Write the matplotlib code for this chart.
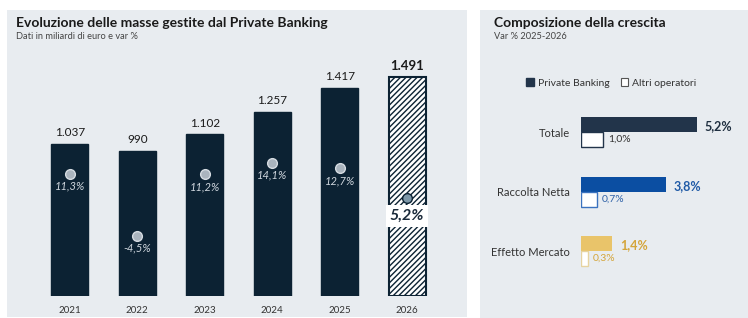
import matplotlib
matplotlib.use("Agg")
import matplotlib.pyplot as plt
from matplotlib.patches import Rectangle, Patch

plt.rcParams['font.family'] = ['Lato', 'DejaVu Sans']

# data
years = ['2021', '2022', '2023', '2024', '2025', '2026']
masse = [1037, 990, 1102, 1257, 1417, 1491]
masse_lbl = ['1.037', '990', '1.102', '1.257', '1.417', '1.491']
var_pct = [11.3, -4.5, 11.2, 14.1, 12.7, 5.2]
var_lbl = ['11,3%', '-4,5%', '11,2%', '14,1%', '12,7%', '5,2%']

componenti = ['Totale', 'Raccolta Netta', 'Effetto Mercato']
pb_growth = [5.2, 3.8, 1.4]
altri_growth = [1.0, 0.7, 0.3]
pb_lbl = ['5,2%', '3,8%', '1,4%']
altri_lbl = ['1,0%', '0,7%', '0,3%']

W, H = 748, 318
navy = '#0c2233'
panel_bg = '#e8ecf0'
bar_cols = ['#22344a', '#0b4ea2', '#e9c46a']
altri_edge = ['#22344a', '#3a72bf', '#e6d3a0']
txt_cols = ['#1f2f40', '#1f5aa6', '#d4a53a']
altri_txt = ['#333333', '#2f62a8', '#d4a53a']

fig = plt.figure(figsize=(W / 100, H / 100), dpi=100)


def box(x0, y0, x1, y1):
    # pixel coords measured from top-left
    return [x0 / W, 1 - y1 / H, (x1 - x0) / W, (y1 - y0) / H]


# background panels
for x0, y0, x1, y1 in [(7, 10, 467, 317), (480, 10, 748, 318)]:
    b = box(x0, y0, x1, y1)
    fig.patches.append(Rectangle((b[0], b[1]), b[2], b[3], transform=fig.transFigure,
                                 facecolor=panel_bg, edgecolor='none', zorder=-1))

# titles
fig.text(16 / W, 1 - 27 / H, 'Evoluzione delle masse gestite dal Private Banking',
         fontsize=10, fontweight='bold', color='#1a1a1a', va='baseline')
fig.text(16 / W, 1 - 39 / H, 'Dati in miliardi di euro e var %',
         fontsize=6.7, color='#444444', va='baseline')
fig.text(494 / W, 1 - 27 / H, 'Composizione della crescita',
         fontsize=10, fontweight='bold', color='#1a1a1a', va='baseline')
fig.text(494 / W, 1 - 39 / H, 'Var % 2025-2026',
         fontsize=6.7, color='#444444', va='baseline')

# ---- left chart ----
ax = fig.add_axes(box(16, 50, 461, 296))
ax.set_facecolor('none')
x = range(len(years))
cols = [navy] * (len(years) - 1) + ['white']
bars = ax.bar(x, masse, width=0.55, color=cols, edgecolor=navy, linewidth=1)
bars[-1].set_hatch('//////')
bars[-1].set_linewidth(1.5)
ax.set_xlim(-0.8, 5.8)
ax.set_ylim(0, 1678)
for i, (v, l) in enumerate(zip(masse, masse_lbl)):
    last = i == len(years) - 1
    ax.text(i, v + 40, l, ha='center', va='bottom',
            fontsize=9.5 if last else 8.5,
            fontweight='bold' if last else 'normal', color='#1a1a1a')
ax.set_xticks(list(x))
ax.set_xticklabels(years, fontsize=7, color='#333333')
ax.tick_params(axis='x', length=0, pad=7)
ax.set_yticks([])
for s in ax.spines.values():
    s.set_visible(False)

ax_r = ax.twinx()
ax_r.set_ylim(-19.8, 42.9)
ax_r.axis('off')
for i, (v, l) in enumerate(zip(var_pct, var_lbl)):
    last = i == len(years) - 1
    ax_r.plot(i, v, 'o', ms=7, mfc='#7d97a8' if last else '#aab4be',
              mec=navy if last else '#d6dce2', mew=1, zorder=4)
    if last:
        ax_r.text(i, v - 4.5, l, ha='center', va='center', fontsize=11.5,
                  fontweight='bold', fontstyle='italic', color='#1a2a3a', zorder=5,
                  bbox=dict(boxstyle='square,pad=0.25', fc='white', ec='none'))
    else:
        ax_r.text(i, v - 3.1, l, ha='center', va='center', fontsize=8,
                  fontstyle='italic', color='#d0d7de', zorder=5)

# ---- right chart ----
ax2 = fig.add_axes(box(581, 100, 740, 290))
ax2.set_facecolor('none')
yy = list(range(len(componenti)))
h = 0.252
for i in yy:
    ax2.barh(i - h / 2, pb_growth[i], height=h, color=bar_cols[i], edgecolor='none')
    ax2.barh(i + h / 2, altri_growth[i], height=h, color='white',
             edgecolor=altri_edge[i], linewidth=1)
    ax2.text(pb_growth[i] + 0.35, i - h / 2 + 0.03, pb_lbl[i], ha='left', va='center',
             fontsize=9, fontweight='bold', color=txt_cols[i])
    ax2.text(altri_growth[i] + 0.22, i + h / 2, altri_lbl[i], ha='left', va='center',
             fontsize=7.5, color=altri_txt[i])
ax2.set_xlim(0, 7.13)
ax2.set_ylim(2.655, -0.538)
ax2.set_yticks(yy)
ax2.set_yticklabels(componenti, fontsize=8, color='#333333')
ax2.tick_params(axis='y', length=0, pad=8)
ax2.set_xticks([])
for s in ax2.spines.values():
    s.set_visible(False)

handles = [Patch(facecolor=bar_cols[0], edgecolor=bar_cols[0]),
           Patch(facecolor='white', edgecolor='#555555', linewidth=0.8)]
fig.legend(handles, ['Private Banking', 'Altri operatori'], loc='center left',
           bbox_to_anchor=(517 / W, 1 - 83 / H), ncol=2, frameon=False,
           fontsize=7.5, handlelength=0.7, handleheight=0.7, handletextpad=0.4,
           columnspacing=1.1, labelcolor='#333333')

fig.savefig('out.png', dpi=100)
